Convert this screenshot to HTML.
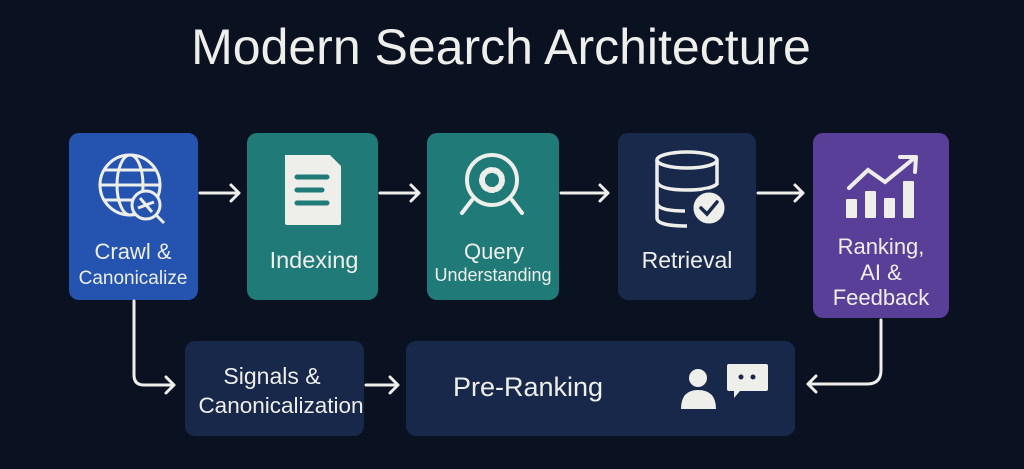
<!DOCTYPE html>
<html><head><meta charset="utf-8"><style>
html,body{margin:0;padding:0;background:#0a1222;}
svg{display:block}
text{font-family:"Liberation Sans",sans-serif;fill:#eeeeea}
</style></head><body>
<svg width="1024" height="469" viewBox="0 0 1024 469" xmlns="http://www.w3.org/2000/svg">
<rect width="1024" height="469" fill="#0a1222"/>
<text x="501" y="64" font-size="50" text-anchor="middle">Modern Search Architecture</text>

<rect x="69" y="133" width="129" height="167" rx="10" fill="#2454b0"/>
<rect x="247" y="133" width="131" height="167" rx="10" fill="#1f7a78"/>
<rect x="427" y="133" width="132" height="167" rx="10" fill="#1f7a78"/>
<rect x="618" y="133" width="138" height="167" rx="10" fill="#18294b"/>
<rect x="813" y="133" width="136" height="185" rx="10" fill="#5a3f99"/>
<rect x="185" y="341" width="179" height="95" rx="10" fill="#18284a"/>
<rect x="406" y="341" width="389" height="95" rx="10" fill="#18284a"/>

<g stroke="#eeeeea" stroke-width="3" fill="none" stroke-linecap="round" stroke-linejoin="round">
<path d="M200 193 H239 M231 185 L239 193 L231 201"/>
<path d="M380 193 H419 M411 185 L419 193 L411 201"/>
<path d="M561 193 H608 M600 185 L608 193 L600 201"/>
<path d="M758 193 H803 M795 185 L803 193 L795 201"/>
<path d="M134 301 V375 Q134 385 144 385 H174 M166 377 L174 385 L166 393"/>
<path d="M366 385 H398 M390 377 L398 385 L390 393"/>
<path d="M881 320 V370 Q881 384 867 384 H808 M816 376 L808 384 L816 392"/>
</g>

<g stroke="#eeeeea" stroke-width="3" fill="none">
<circle cx="130" cy="185" r="30"/>
<ellipse cx="130" cy="185" rx="13" ry="30"/>
<path d="M100 185 H160 M104 170 H156 M104 200 H156"/>
<circle cx="146" cy="205" r="14" fill="#2454b0"/>
<path d="M140 198 L152 212 M138 208 L154 202"/>
<path d="M156 215 L164 223"/>
</g>
<path d="M285 155 H330 L341 166 V223 Q341 225 339 225 H287 Q285 225 285 223 Z" fill="#eeeeea"/>
<g stroke="#1f7a78" stroke-width="5" stroke-linecap="round"><path d="M297 177 H327 M297 190 H322 M297 203 H327"/></g>
<g stroke="#eeeeea" stroke-width="4" fill="none" stroke-linecap="round">
<circle cx="492" cy="180" r="25"/>
<path d="M472 200 L462 213 M512 200 L522 213"/>
<circle cx="492" cy="180" r="10" stroke-width="6" stroke-dasharray="4 3"/>
</g>
<circle cx="492" cy="180" r="5" fill="#1f7a78"/>
<g stroke="#eeeeea" stroke-width="3.5" fill="none">
<ellipse cx="687" cy="160" rx="30" ry="8"/>
<path d="M657 160 V218 Q657 226 687 226 M717 160 V185"/>
<path d="M657 182 Q660 190 687 190 Q710 190 717 184 M657 204 Q660 211 685 211"/>
</g>
<circle cx="709" cy="208" r="17" fill="#eeeeea" stroke="#18294b" stroke-width="3"/>
<path d="M701 208 L707 214 L717 202" stroke="#18294b" stroke-width="3.5" fill="none" stroke-linecap="round"/>
<g fill="#eeeeea">
<rect x="846" y="199" width="11" height="19" rx="1"/>
<rect x="865" y="191" width="11" height="27" rx="1"/>
<rect x="884" y="198" width="11" height="20" rx="1"/>
<rect x="903" y="181" width="11" height="37" rx="1"/>
</g>
<path d="M849 188 L868 170 L885 182 L912 160" stroke="#eeeeea" stroke-width="4" fill="none" stroke-linecap="round"/>
<path d="M900 157 L916 157 L915 172" stroke="#eeeeea" stroke-width="4" fill="none" stroke-linecap="round" stroke-linejoin="round"/>
<circle cx="698" cy="378" r="9" fill="#eeeeea"/>
<path d="M681 409 Q681 390 698 390 Q716 390 716 409 Z" fill="#eeeeea"/>
<path d="M729 364 H766 Q768 364 768 366 V389 Q768 391 766 391 H740 L734 398 V391 H729 Q727 391 727 389 V366 Q727 364 729 364 Z" fill="#eeeeea"/>
<circle cx="741" cy="377" r="2.5" fill="#18284a"/><circle cx="753" cy="377" r="2.5" fill="#18284a"/>

<text x="133" y="259" font-size="22" text-anchor="middle">Crawl &amp;</text>
<text x="133" y="284" font-size="19" text-anchor="middle">Canonicalize</text>
<text x="314" y="268" font-size="23.5" text-anchor="middle">Indexing</text>
<text x="494" y="259" font-size="22" text-anchor="middle">Query</text>
<text x="493" y="281" font-size="18" text-anchor="middle">Understanding</text>
<text x="687" y="268" font-size="23" text-anchor="middle">Retrieval</text>
<text x="881" y="254" font-size="22" text-anchor="middle">Ranking,</text>
<text x="881" y="280" font-size="22" text-anchor="middle">AI &amp;</text>
<text x="881" y="305" font-size="22" text-anchor="middle">Feedback</text>
<text x="272" y="384" font-size="23" text-anchor="middle">Signals &amp;</text>
<text x="281" y="413" font-size="22.5" text-anchor="middle">Canonicalization</text>
<text x="528" y="396" font-size="27" text-anchor="middle">Pre-Ranking</text>
</svg>
</body></html>
